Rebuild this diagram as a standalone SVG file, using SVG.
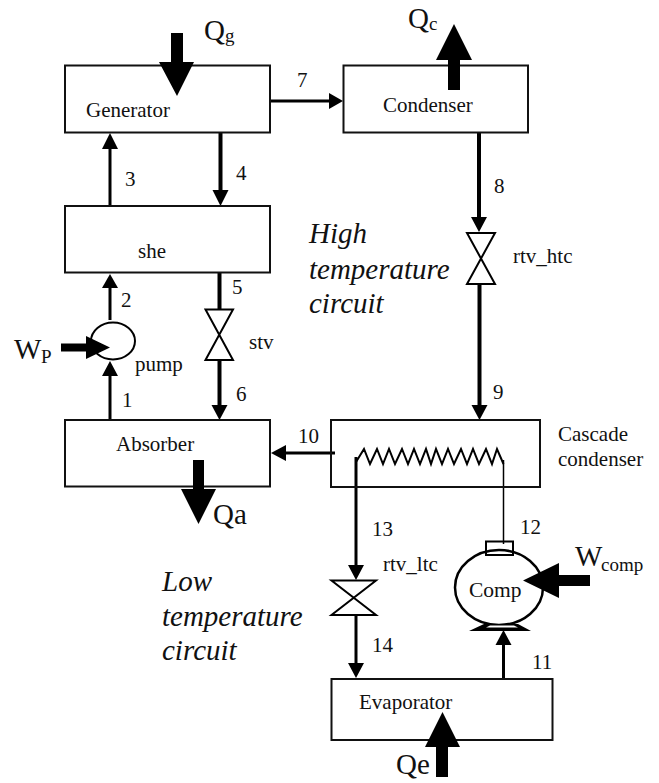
<svg xmlns="http://www.w3.org/2000/svg" width="659" height="783" viewBox="0 0 659 783">
<style>
text{font-family:"Liberation Serif","Times New Roman",serif;fill:#111}
.l{font-size:21px}
.n{font-size:21px}
.b{font-size:29px}
.s{font-size:19px}
.i{font-size:29px;font-style:italic}
rect.box{fill:none;stroke:#111;stroke-width:2}
.w{fill:none;stroke:#000;stroke-width:3}
.t{fill:none;stroke:#000;stroke-width:4}
.f{fill:none;stroke:#000;stroke-width:1.5}
.v{fill:#fff;stroke:#000;stroke-width:2}
.h{fill:#000}
</style>
<g id="connectors">
<path class="w" d="M110 206V145"/><path class="h" d="M110 133l-8 16h16z"/>
<path class="t" d="M220.500 133V195"/><path class="h" d="M220.500 206l-8-16h16z"/>
<path class="w" d="M110 320V285"/><path class="h" d="M110 274l-8 14h16z"/>
<path class="w" d="M110 420V372"/><path class="h" d="M110 361l-8 15h16z"/>
<path class="t" d="M219.500 273V309"/>
<path class="t" d="M219.500 360V408"/><path class="h" d="M219.500 420l-8-15h16z"/>
<path class="w" d="M270 101H332"/><path class="h" d="M343 101l-14-8v16z"/>
<path class="t" d="M479 133V220"/><path class="h" d="M479 232l-8-15h16z"/>
<path class="t" d="M479.500 283V408"/><path class="h" d="M479.500 420l-8-15h16z"/>
<path class="w" d="M335 453H282"/><path class="h" d="M271 453l15-8v16z"/>
<path class="w" d="M356 457V568"/><path class="h" d="M356 580l-8-15h16z"/>
<path class="w" d="M356 615V666"/><path class="h" d="M356 678l-8-15h16z"/>
<path class="w" d="M503.500 679V640"/><path class="h" d="M503.500 630l-8 15h16z"/>
<path class="f" d="M503.500 460V544"/>
</g>
<g id="generator"><rect class="box" x="65" y="65.500" width="205" height="67"/><text class="n" x="86" y="117">Generator</text></g>
<g id="condenser"><rect class="box" x="343.500" y="65.500" width="184.500" height="67"/><text class="n" x="383" y="112">Condenser</text></g>
<g id="she"><rect class="box" x="65" y="206" width="205" height="66.500"/><text class="n" x="138" y="258">she</text></g>
<g id="absorber"><rect class="box" x="65" y="420" width="205" height="66.500"/><text class="n" x="116" y="451">Absorber</text></g>
<g id="cascade"><rect class="box" x="331" y="420" width="209" height="67"/>
<path class="f" style="stroke-width:2" d="M356 462L364 449L370 464L377 449L383 464L389 449L395 464L402 449L408 464L414 449L420 464L426 449L431 464L436 449L442 464L448 449L454 464L461 449L467 464L473 449L479 464L486 449L492 464L497 449L503.500 464"/>
<text class="n" x="558" y="441">Cascade</text><text class="n" x="558" y="466">condenser</text></g>
<g id="evaporator"><rect class="box" x="331.500" y="679" width="221" height="61"/><text class="n" x="359" y="709">Evaporator</text></g>
<g id="pump"><ellipse cx="113" cy="341" rx="22" ry="18.500" fill="#fff" stroke="#000" stroke-width="2"/><text class="n" x="135" y="371">pump</text></g>
<g id="stv"><path class="v" d="M205.500 309.500H233L205.500 360H233Z"/><text class="n" x="249" y="349">stv</text></g>
<g id="rtv_htc"><path class="v" d="M467 233H495L467 284H495Z"/><text class="n" x="513" y="263">rtv_htc</text></g>
<g id="rtv_ltc"><path class="v" d="M331.500 580.500H376L331.500 615H376Z"/><text class="n" x="383" y="571">rtv_ltc</text></g>
<g id="comp"><ellipse cx="499" cy="587.500" rx="44" ry="37.500" fill="none" stroke="#000" stroke-width="2.500"/>
<rect x="486" y="541.500" width="27" height="13.500" fill="none" stroke="#000" stroke-width="2"/>
<path class="h" d="M469 631L484 624H518L531 631Z"/><path fill="#fff" d="M486 627.500L490 625.500H514L518 627.500Z"/><text class="n" x="469" y="597" style="font-size:21.500px">Comp</text></g>
<g id="heat">
<path class="h" d="M171 33H183V62H194L177 96L159 62H171Z"/>
<path class="h" d="M448 90V60H436L454 24L472 60H460V90Z"/>
<path class="h" d="M193 460H204V489H216L198.500 524L181 489H193Z"/>
<path class="h" d="M61 343.500H86V336L110 347.500L86 359V351.500H61Z"/>
<path class="h" d="M590 575V586H559V598L523 580.500L559 563V575Z"/>
<path class="h" d="M436 777V747H425L442.500 712L460 747H448V777Z"/>
</g>
<g id="labels">
<text class="l" x="297" y="87">7</text><text class="l" x="125" y="186">3</text><text class="l" x="236" y="180">4</text>
<text class="l" x="121" y="307">2</text><text class="l" x="232" y="294">5</text><text class="l" x="122" y="407">1</text><text class="l" x="236" y="401">6</text>
<text class="l" x="494" y="193">8</text><text class="l" x="493" y="399">9</text><text class="l" x="298" y="443">10</text>
<text class="l" x="372" y="536">13</text><text class="l" x="520" y="534">12</text><text class="l" x="372" y="652">14</text><text class="l" x="532" y="669">11</text>
<text class="b" x="204" y="40">Q</text><text class="s" x="225" y="42">g</text>
<text class="b" x="408" y="28">Q</text><text class="s" x="429" y="30">c</text>
<text class="b" x="14" y="359">W</text><text class="s" x="41" y="363">P</text>
<text class="b" x="213" y="524">Qa</text><text class="b" x="396" y="774">Qe</text>
<text class="b" x="575" y="566">W</text><text class="s" x="601" y="571">comp</text>
<text class="i" x="309" y="243">High</text><text class="i" x="309" y="279">temperature</text><text class="i" x="309" y="313">circuit</text>
<text class="i" x="162" y="591">Low</text><text class="i" x="162" y="626">temperature</text><text class="i" x="162" y="660">circuit</text>
</g>
</svg>
